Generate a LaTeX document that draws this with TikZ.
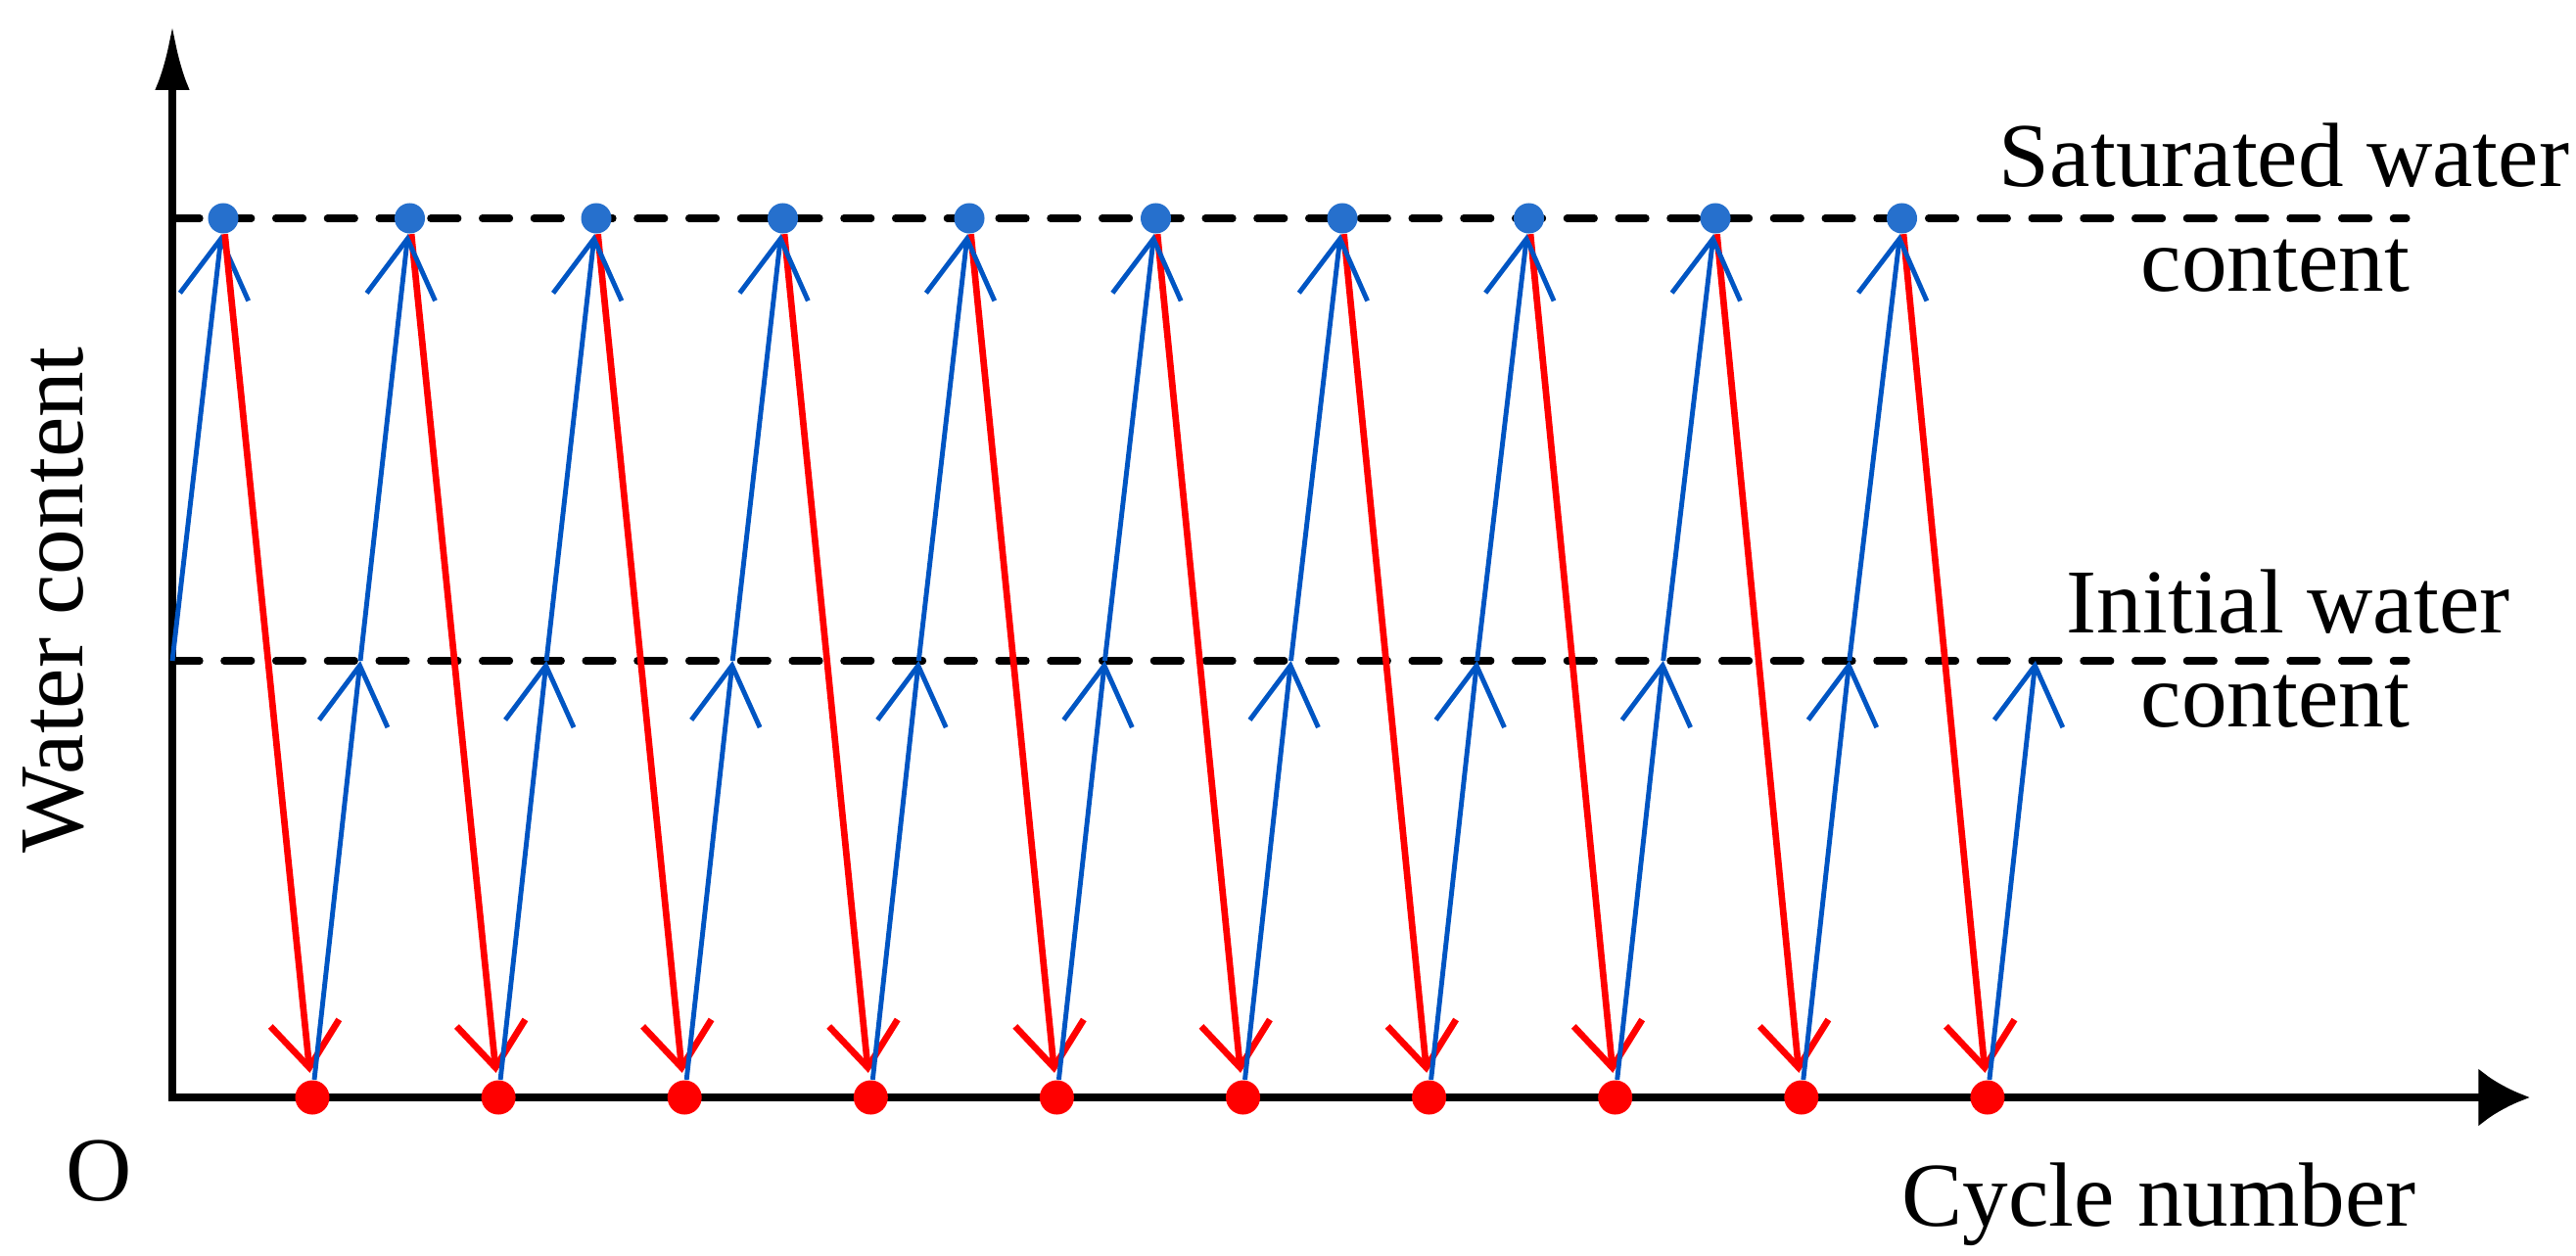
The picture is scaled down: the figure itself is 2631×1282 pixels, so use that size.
\documentclass[tikz,border=0pt]{standalone}
\usepackage{fontspec}
\setmainfont{Liberation Serif}
\usetikzlibrary{arrows.meta,positioning,calc}
\definecolor{lineblue}{RGB}{0,85,195}
\definecolor{dotblue}{RGB}{38,112,205}
\definecolor{dryred}{RGB}{255,0,0}

\begin{document}
\begin{tikzpicture}[
  x=0.01cm, y=-0.01cm,
  axis/.style={line width=2.4pt, black},
  level/.style={line width=2pt, dash pattern=on 8pt off 7pt, line cap=round},
  up/.style={line width=1.4pt, color=lineblue, -{Straight Barb[length=17pt,width=20pt]}},
  down/.style={line width=1.9pt, color=dryred, -{Straight Barb[length=13pt,width=20pt]}, shorten >=2pt},
  wetdot/.style={circle, fill=dotblue, inner sep=0pt, minimum size=0.31cm},
  drydot/.style={circle, fill=dryred, inner sep=0pt, minimum size=0.35cm},
  lbl/.style={font=\fontsize{26.5}{30}\selectfont, inner sep=0pt}
]
  \useasboundingbox (0,0) rectangle (2631,1282);
  % axes
  \coordinate (o) at (176,1121);
  \coordinate (ytop) at (176,25);
  \coordinate (xend) at (2584,1121);
  \draw[axis, {Latex[length=19pt,width=10pt]}-{Latex[length=15pt,width=17pt]}] (ytop) -- (o) -- (xend);
  % saturated and initial levels
  \coordinate (sat) at (176,223);
  \coordinate (satend) at (2458,223);
  \coordinate (ini) at (176,675);
  \coordinate (iniend) at (2458,675);
  \draw[level] (sat) -- (satend);
  \draw[level] (ini) -- (iniend);
  % wet and dry points
  \foreach \i in {0,...,9} {
    \node[wetdot] (b\i) at ({228+190.5*\i},223) {};
    \node[drydot] (r\i) at ({319+190.1*\i},1121) {};
    \coordinate (m\i) at ({368+190.1*\i},675);
  }
  % wetting and drying paths
  \draw[up] (ini) -- (b0);
  \foreach \i in {0,...,9}
    \draw[down] (b\i) -- (r\i);
  \foreach \i [evaluate=\i as \j using int(\i+1)] in {0,...,8} {
    \draw[up] (r\i) -- (m\i);
    \draw[up] (m\i) -- (b\j);
  }
  \draw[up] (r9) -- (m9);
  % labels
  \node[lbl, rotate=90, anchor=base] (ylab) at (84,613) {Water content};
  \node[lbl] (olab) at (101,1196) {O};
  \node[lbl, anchor=base] (xlab) at (2205,1252) {Cycle number};
  \node[lbl, anchor=base] (sat1) at (2333,190) {Saturated water};
  \node[lbl, anchor=base] (sat2) at (2324,297) {content};
  \node[lbl, anchor=base] (ini1) at (2337,646) {Initial water};
  \node[lbl, anchor=base] (ini2) at (2324,742) {content};
\end{tikzpicture}
\end{document}
